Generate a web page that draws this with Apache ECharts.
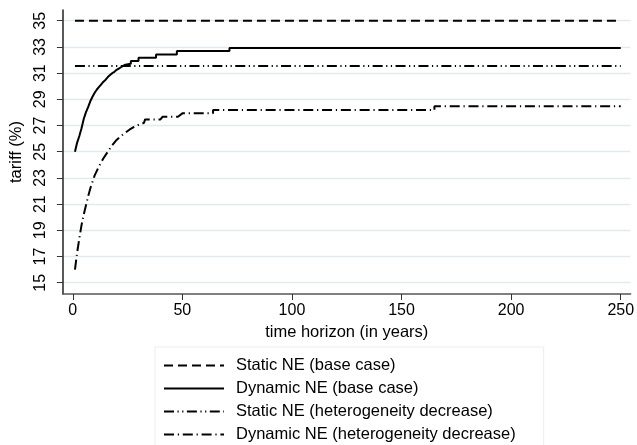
<!DOCTYPE html>
<html>
<head>
<meta charset="utf-8">
<script src="https://cdn.jsdelivr.net/npm/echarts@6/dist/echarts.min.js"></script>
<style>
html,body{margin:0;padding:0;background:#fff;}
#chart{width:637px;height:445px;}
</style>
</head>
<body>
<div id="chart"></div>
<script>
// ---- data ----
const seriesNames = [
  'Static NE (base case)',
  'Dynamic NE (base case)',
  'Static NE (heterogeneity decrease)',
  'Dynamic NE (heterogeneity decrease)'
];
const horizon = [1, 250];
const staticBase = 35.0;
const staticHet = 31.55;
const dynBase = [
  [1,25.0],[2,25.7],[3,26.2],[4,26.8],[5,27.5],[6,28.0],[7,28.4],[8,28.85],[9,29.2],[10,29.5],
  [11,29.75],[12,29.95],[13,30.15],[14,30.35],[15,30.5],[16,30.7],[17,30.85],[18,31.0],[19,31.1],
  [20,31.25],[21,31.35],[22,31.45],[23,31.55],[24,31.65],[26.5,31.72],[26.5,31.92],[30,31.92],
  [30,32.18],[38,32.18],[38,32.43],[47.5,32.43],[47.5,32.69],[71.5,32.69],[71.5,32.92],[250,32.92]
];
const dynHet = [
  [1,16.0],[2,17.3],[3,18.4],[4,19.4],[5,20.2],[6,20.9],[7,21.6],[8,22.2],[9,22.7],[10,23.2],
  [12,23.9],[14,24.5],[16,25.0],[18,25.5],[20,25.9],[22,26.2],[24,26.45],[26,26.7],[28,26.9],
  [30,27.05],[32.5,27.2],[33,27.47],[40,27.47],[41,27.67],[48,27.67],[50,27.93],[64,27.93],
  [64,28.18],[165,28.18],[165,28.48],[250,28.48]
];
const xTicks = [0, 50, 100, 150, 200, 250];
const yTicks = [15, 17, 19, 21, 23, 25, 27, 29, 31, 33, 35];
const xTitle = 'time horizon (in years)';
const yTitle = 'tariff (%)';

// ---- chart ----
const FONT = 'Liberation Sans, Arial, sans-serif';
const chart = echarts.init(document.getElementById('chart'), null, {renderer: 'canvas'});
const flat = v => horizon.map(t => [t, v]);
const dashStatic = [9, 5];
const dashStaticHet = [10, 3.5, 1.2, 3.5, 1.2, 3.5];
const dashDynHet = [10, 3.8, 1.2, 3.8];

chart.setOption({
  animation: false,
  backgroundColor: '#fff',
  textStyle: {fontFamily: FONT},
  grid: {left: 58, right: 5, top: 10, bottom: 151, containLabel: false},
  xAxis: {
    type: 'value', min: -4.5, max: 254.5,
    name: xTitle, nameLocation: 'middle', nameGap: 22,
    nameTextStyle: {fontSize: 16.5, color: '#000', fontFamily: FONT, verticalAlign: 'top'},
    axisLine: {show: true, onZero: false, lineStyle: {color: '#555', width: 1.5}},
    axisTick: {show: true, length: 6, customValues: xTicks, lineStyle: {color: '#333', width: 1}},
    axisLabel: {customValues: xTicks, fontSize: 16, color: '#000', margin: 9, fontFamily: FONT},
    splitLine: {show: false}
  },
  yAxis: {
    type: 'value', min: 14.14, max: 35.82,
    name: yTitle, nameLocation: 'middle', nameGap: 34, nameRotate: 90,
    nameTextStyle: {fontSize: 16.5, color: '#000', fontFamily: FONT},
    axisLine: {show: true, onZero: false, lineStyle: {color: '#222', width: 1.5}},
    axisTick: {show: true, length: 6, customValues: yTicks, lineStyle: {color: '#333', width: 1}},
    axisLabel: {customValues: yTicks, rotate: 90, fontSize: 16, color: '#000', margin: 14, fontFamily: FONT},
    splitLine: {show: true, lineStyle: {color: '#e1eaee', width: 1.3}}
  },
  legend: {
    show: true,
    orient: 'vertical', left: 155, top: 347, height: 130,
    padding: [10, 28, 8, 8],
    borderColor: '#e8eff1', borderWidth: 1,
    itemWidth: 60, itemHeight: 14, itemGap: 6,
    itemStyle: {opacity: 0},
    textStyle: {fontSize: 16.5, color: '#000', lineHeight: 16, padding: [0, 0, 0, 7], fontFamily: FONT},
    data: seriesNames,
    selectedMode: false
  },
  series: [
    {name: seriesNames[0], type: 'line', data: flat(staticBase), symbol: 'none',
     lineStyle: {color: '#000', width: 2, type: dashStatic}, itemStyle: {color: '#000'}},
    {name: seriesNames[1], type: 'line', data: dynBase, symbol: 'none',
     lineStyle: {color: '#000', width: 2, type: 'solid'}, itemStyle: {color: '#000'}},
    {name: seriesNames[2], type: 'line', data: flat(staticHet), symbol: 'none',
     lineStyle: {color: '#000', width: 2, type: dashStaticHet}, itemStyle: {color: '#000'}},
    {name: seriesNames[3], type: 'line', data: dynHet, symbol: 'none',
     lineStyle: {color: '#000', width: 2, type: dashDynHet}, itemStyle: {color: '#000'}}
  ]
});
</script>
</body>
</html>
